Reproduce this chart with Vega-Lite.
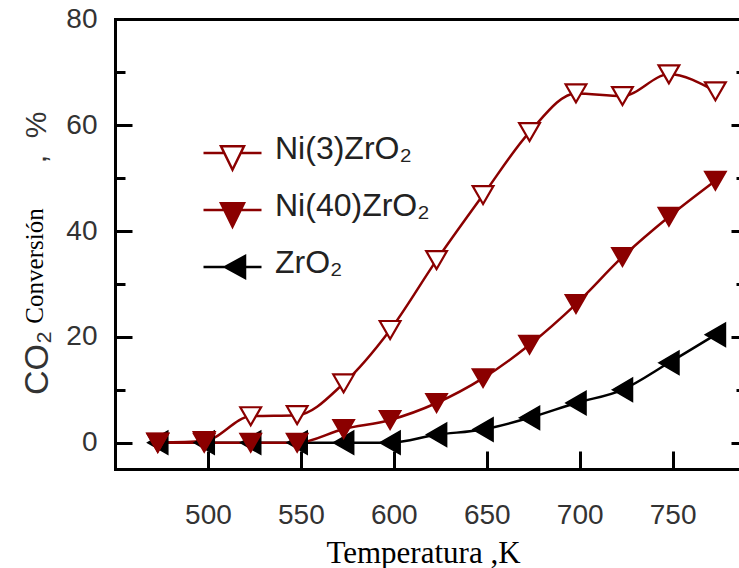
{
  "$schema": "https://vega.github.io/schema/vega-lite/v6.json",
  "width": 624,
  "height": 450,
  "autosize": {"type": "none"},
  "padding": {"left": 115, "top": 19, "right": 0, "bottom": 99},
  "background": "white",
  "config": {"view": {"stroke": null}, "axis": {"grid": false}},
  "data": {
    "values": [
      {"series": "ZrO₂", "T": 473, "conv": 0},
      {"series": "ZrO₂", "T": 498, "conv": 0},
      {"series": "ZrO₂", "T": 523, "conv": 0},
      {"series": "ZrO₂", "T": 548, "conv": 0},
      {"series": "ZrO₂", "T": 573, "conv": 0},
      {"series": "ZrO₂", "T": 598, "conv": 0},
      {"series": "ZrO₂", "T": 623, "conv": 1.5},
      {"series": "ZrO₂", "T": 648, "conv": 2.5},
      {"series": "ZrO₂", "T": 673, "conv": 4.7},
      {"series": "ZrO₂", "T": 698, "conv": 7.5},
      {"series": "ZrO₂", "T": 723, "conv": 10},
      {"series": "ZrO₂", "T": 748, "conv": 15.1},
      {"series": "ZrO₂", "T": 773, "conv": 20.4},
      {"series": "Ni(3)ZrO₂", "T": 473, "conv": 0},
      {"series": "Ni(3)ZrO₂", "T": 498, "conv": 0.3},
      {"series": "Ni(3)ZrO₂", "T": 523, "conv": 5.0},
      {"series": "Ni(3)ZrO₂", "T": 548, "conv": 5.2},
      {"series": "Ni(3)ZrO₂", "T": 573, "conv": 11.2},
      {"series": "Ni(3)ZrO₂", "T": 598, "conv": 21.3},
      {"series": "Ni(3)ZrO₂", "T": 623, "conv": 34.5},
      {"series": "Ni(3)ZrO₂", "T": 648, "conv": 46.8},
      {"series": "Ni(3)ZrO₂", "T": 673, "conv": 58.7},
      {"series": "Ni(3)ZrO₂", "T": 698, "conv": 66},
      {"series": "Ni(3)ZrO₂", "T": 723, "conv": 65.5},
      {"series": "Ni(3)ZrO₂", "T": 748, "conv": 69.6},
      {"series": "Ni(3)ZrO₂", "T": 773, "conv": 66.4},
      {"series": "Ni(40)ZrO₂", "T": 473, "conv": 0},
      {"series": "Ni(40)ZrO₂", "T": 498, "conv": 0},
      {"series": "Ni(40)ZrO₂", "T": 523, "conv": 0},
      {"series": "Ni(40)ZrO₂", "T": 548, "conv": 0},
      {"series": "Ni(40)ZrO₂", "T": 573, "conv": 2.6},
      {"series": "Ni(40)ZrO₂", "T": 598, "conv": 4.3},
      {"series": "Ni(40)ZrO₂", "T": 623, "conv": 7.5},
      {"series": "Ni(40)ZrO₂", "T": 648, "conv": 12.2},
      {"series": "Ni(40)ZrO₂", "T": 673, "conv": 18.5},
      {"series": "Ni(40)ZrO₂", "T": 698, "conv": 26.2},
      {"series": "Ni(40)ZrO₂", "T": 723, "conv": 35.1},
      {"series": "Ni(40)ZrO₂", "T": 748, "conv": 42.7},
      {"series": "Ni(40)ZrO₂", "T": 773, "conv": 49.5}
    ]
  },
  "layer": [
    {
      "mark": {"type": "line", "interpolate": "monotone", "strokeWidth": 2.5},
      "encoding": {
        "x": {
          "field": "T", "type": "quantitative",
          "scale": {"domain": [450, 785.7], "nice": false, "zero": false},
          "axis": {
            "orient": "bottom",
            "values": [500, 550, 600, 650, 700, 750],
            "tickSize": -18, "tickWidth": 3, "tickColor": "black",
            "domain": true, "domainWidth": 3, "domainColor": "black", "domainCap": "square",
            "labelFont": "Liberation Sans", "labelFontSize": 28, "labelColor": "#333333",
            "labelPadding": 50, "labelFlush": false, "labelOverlap": false,
            "title": "Temperatura ,K",
            "titleFont": "Liberation Serif", "titleFontSize": 31, "titleFontWeight": "normal", "titleColor": "black",
            "titleX": 308, "titleY": 93, "titleAlign": "center", "titleBaseline": "alphabetic"
          }
        },
        "y": {
          "field": "conv", "type": "quantitative",
          "scale": {"domain": [-4.97, 80.06], "nice": false, "zero": false},
          "axis": {
            "orient": "left",
            "values": [0, 20, 40, 60, 80],
            "tickSize": -17, "tickWidth": 3, "tickColor": "black",
            "domain": true, "domainWidth": 3, "domainColor": "black", "domainCap": "square",
            "labelFont": "Liberation Sans", "labelFontSize": 28, "labelColor": "#333333",
            "labelPadding": 35, "labelFlush": false, "labelOverlap": false,
            "title": "Conversión",
            "titleFont": "Liberation Serif", "titleFontSize": 25, "titleFontWeight": "normal", "titleColor": "black",
            "titleAngle": -90, "titleX": -73, "titleY": 246.5, "titleAlign": "center", "titleBaseline": "alphabetic"
          }
        },
        "color": {
          "field": "series", "type": "nominal",
          "scale": {"domain": ["Ni(3)ZrO₂", "Ni(40)ZrO₂", "ZrO₂"], "range": ["#8b0000", "#8b0000", "#000000"]},
          "legend": {
            "orient": "none", "legendX": 101.5, "legendY": 118,
            "title": null, "padding": 0,
            "symbolSize": 400, "symbolStrokeWidth": 2.5,
            "labelFont": "Liberation Sans", "labelFontSize": 32, "labelColor": "#222222",
            "labelOffset": 26.5, "rowPadding": 15,
            "encode": {
              "labels": {"update": {"dy": {"value": -4}}},
              "symbols": {
                "update": {
                  "shape": {"signal": "datum.value === 'ZrO₂' ? 'M-2.9,0L2.9,0M1.25,-1.1L-0.75,0L1.25,1.1Z' : 'M-2.9,0L-0.82,0M0.82,0L2.9,0M-1.15,-0.67L1.15,-0.67L0,1.67Z'"},
                  "fill": {"signal": "datum.value === 'ZrO₂' ? '#000000' : (datum.value === 'Ni(3)ZrO₂' ? '#ffffff' : '#8b0000')"},
                  "stroke": {"signal": "datum.value === 'ZrO₂' ? '#000000' : '#8b0000'"},
                  "strokeWidth": {"value": 2.5},
                  "size": {"value": 400},
                  "opacity": {"value": 1}
                }
              }
            }
          }
        }
      }
    },
    {
      "transform": [{"filter": "datum.series === 'ZrO₂'"}],
      "mark": {"type": "point", "shape": "triangle-left", "size": 540, "filled": true, "fill": "#000000", "stroke": "#000000", "strokeWidth": 1.5, "opacity": 1},
      "encoding": {
        "x": {
          "field": "T", "type": "quantitative",
          "scale": {"domain": [450, 785.7], "nice": false, "zero": false},
          "axis": {
            "orient": "top", "labels": false, "ticks": false, "grid": false,
            "domain": true, "domainWidth": 3, "domainColor": "black", "domainCap": "square",
            "title": ",\u00a0\u00a0%",
            "titleFont": "Liberation Sans", "titleFontSize": 30, "titleFontWeight": "normal", "titleColor": "#333333",
            "titleAngle": -90, "titleX": -70, "titleY": 118, "titleAlign": "center", "titleBaseline": "alphabetic"
          }
        },
        "y": {
          "field": "conv", "type": "quantitative",
          "scale": {"domain": [-4.97, 80.06], "nice": false, "zero": false},
          "axis": {
            "orient": "right",
            "values": [0, 20, 40, 60, 80],
            "labels": false, "domain": false,
            "tickSize": -8, "tickWidth": 3, "tickColor": "black",
            "title": "CO₂",
            "titleFont": "Liberation Sans", "titleFontSize": 34, "titleFontWeight": "normal", "titleColor": "#333333",
            "titleAngle": -90, "titleX": -692, "titleY": 343.5, "titleAlign": "center", "titleBaseline": "alphabetic"
          }
        }
      }
    },
    {
      "transform": [{"filter": "datum.series === 'Ni(3)ZrO₂'"}],
      "mark": {"type": "point", "shape": "triangle-down", "size": 430, "filled": false, "fill": "#ffffff", "stroke": "#8b0000", "strokeWidth": 2.2, "opacity": 1, "fillOpacity": 1},
      "encoding": {
        "x": {"field": "T", "type": "quantitative", "scale": {"domain": [450, 785.7], "nice": false, "zero": false}, "axis": null},
        "y": {
          "field": "conv", "type": "quantitative",
          "scale": {"domain": [-4.97, 80.06], "nice": false, "zero": false},
          "axis": {
            "orient": "left", "values": [10, 30, 50, 70],
            "labels": false, "domain": false, "title": null,
            "tickSize": -10, "tickWidth": 3, "tickColor": "black"
          }
        }
      }
    },
    {
      "transform": [{"filter": "datum.series === 'Ni(40)ZrO₂'"}],
      "mark": {"type": "point", "shape": "triangle-down", "size": 430, "filled": true, "fill": "#8b0000", "stroke": "#8b0000", "strokeWidth": 2, "opacity": 1},
      "encoding": {
        "x": {"field": "T", "type": "quantitative", "scale": {"domain": [450, 785.7], "nice": false, "zero": false}, "axis": null},
        "y": {
          "field": "conv", "type": "quantitative",
          "scale": {"domain": [-4.97, 80.06], "nice": false, "zero": false},
          "axis": {
            "orient": "right", "values": [10, 30, 50, 70],
            "labels": false, "domain": false, "title": null,
            "tickSize": -3, "tickWidth": 3, "tickColor": "black"
          }
        }
      }
    }
  ],
  "resolve": {"axis": {"x": "independent", "y": "independent"}}
}
